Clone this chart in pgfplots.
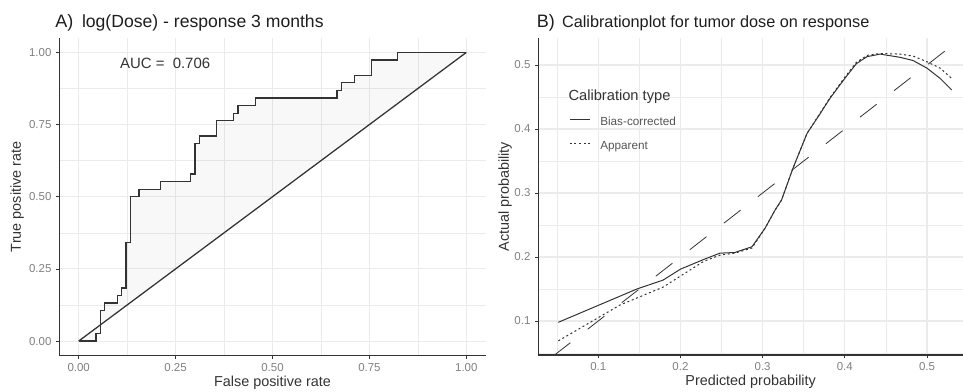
\documentclass[border=0pt]{standalone}
\usepackage{fontspec}
\setmainfont{Liberation Sans}
\usepackage{pgfplots}
\pgfplotsset{compat=1.18}

\definecolor{gridc}{RGB}{235,235,235}
\definecolor{axc}{RGB}{51,51,51}
\definecolor{tickc}{RGB}{128,128,128}
\definecolor{linec}{RGB}{51,51,51}
\definecolor{txtc}{RGB}{30,30,30}
\definecolor{legc}{RGB}{85,85,85}

\pgfplotsset{
  gg/.style={
    scale only axis,
    anchor=south west,
    axis lines*=left,
    xtick pos=bottom, ytick pos=left,
    axis line style={-, color=axc, line width=0.8pt},
    tick align=outside,
    major tick length=2.4pt,
    minor tick length=0pt,
    tick style={color=axc, line width=0.6pt},
    grid=both,
    major grid style={color=gridc, line width=0.8pt},
    minor grid style={color=gridc, line width=0.4pt},
    tick label style={font=\fontsize{8.6}{10}\selectfont, text=tickc},
    /pgf/number format/assume math mode=true,
    label style={font=\fontsize{10.8}{12}\selectfont, text=axc},
    clip=true,
  }
}

\begin{document}
\begin{tikzpicture}
\useasboundingbox (0,0) rectangle (722.25pt,294pt);

% ---------- Panel A ----------
\begin{axis}[gg,
  at={(44.475pt,27.375pt)}, width=319.8pt, height=238.125pt,
  xmin=-0.05, xmax=1.05, ymin=-0.05, ymax=1.05,
  xtick={0,0.25,0.5,0.75,1}, xticklabels={0.00,0.25,0.50,0.75,1.00},
  ytick={0,0.25,0.5,0.75,1}, yticklabels={0.00,0.25,0.50,0.75,1.00},
  minor xtick={0.125,0.375,0.625,0.875},
  minor ytick={0.125,0.375,0.625,0.875},
  xlabel={False positive rate}, ylabel={True positive rate},
  xlabel style={at={(axis description cs:0.5,-0.085)}, anchor=center},
  ylabel style={at={(axis description cs:-0.099,0.5)}, anchor=center, rotate=0},
]
\addplot[const plot, draw=none, fill=black, fill opacity=0.028, forget plot] coordinates {
(0,0) (0.04444,0.02632) (0.05556,0.10526) (0.06667,0.13158) (0.1,0.15789)
(0.11111,0.18421) (0.12222,0.34211) (0.13333,0.5) (0.15556,0.52632)
(0.21111,0.55263) (0.28889,0.57895) (0.3,0.68421) (0.31111,0.71053)
(0.35556,0.76316) (0.4,0.78947) (0.41111,0.81579) (0.45556,0.84211)
(0.66667,0.86842) (0.67778,0.89474) (0.71111,0.92105) (0.75556,0.97368)
(0.82222,1) (1,1)} -- cycle;
\addplot[const plot, draw=linec, line width=0.95pt] coordinates {
(0,0) (0.04444,0.02632) (0.05556,0.10526) (0.06667,0.13158) (0.1,0.15789)
(0.11111,0.18421) (0.12222,0.34211) (0.13333,0.5) (0.15556,0.52632)
(0.21111,0.55263) (0.28889,0.57895) (0.3,0.68421) (0.31111,0.71053)
(0.35556,0.76316) (0.4,0.78947) (0.41111,0.81579) (0.45556,0.84211)
(0.66667,0.86842) (0.67778,0.89474) (0.71111,0.92105) (0.75556,0.97368)
(0.82222,1) (1,1)};
\addplot[draw=linec, line width=0.95pt] coordinates {(0,0) (1,1)};
\node[font=\fontsize{11.2}{13}\selectfont, text=axc, inner sep=0pt] at (axis cs:0.223,0.961) {AUC =~~0.706};
\end{axis}

% ---------- Panel B ----------
\begin{axis}[gg,
  at={(403.725pt,27.75pt)}, width=318.525pt, height=237.525pt,
  xmin=0.0271, xmax=0.5438, ymin=0.0469, ymax=0.5417,
  xtick={0.1,0.2,0.3,0.4,0.5}, xticklabels={0.1,0.2,0.3,0.4,0.5},
  ytick={0.1,0.2,0.3,0.4,0.5}, yticklabels={0.1,0.2,0.3,0.4,0.5},
  minor xtick={0.05,0.15,0.25,0.35,0.45},
  minor ytick={0.05,0.15,0.25,0.35,0.45},
  xlabel={Predicted probability}, ylabel={Actual probability},
  xlabel style={at={(axis description cs:0.5,-0.085)}, anchor=center},
  ylabel style={at={(axis description cs:-0.078,0.5)}, anchor=center},
  legend style={at={(rel axis cs:0.0723,0.6967)}, anchor=west, draw=none, fill=none,
    inner sep=0pt, row sep=9.5pt, column sep=7.5pt,
    font=\fontsize{8.8}{10}\selectfont, text=legc,
    nodes={inner sep=0pt, text height=6.5pt, text depth=2pt}},
  legend cell align=left,
  legend image code/.code={\draw[#1] (0pt,2.2pt) -- (15pt,2.2pt);},
]
\addplot[draw=linec, line width=0.6pt, dash pattern=on 15.86pt off 16.49pt, forget plot]
  coordinates {(0.0458,0.0458) (0.523,0.523)};
\addplot[draw=linec, line width=0.75pt] coordinates {
(0.0515,0.098) (0.147,0.150) (0.179,0.164) (0.2,0.181) (0.228,0.196) (0.248,0.206)
(0.266,0.207) (0.287,0.216) (0.303,0.245) (0.315,0.273) (0.323,0.289)
(0.337,0.339) (0.354,0.393) (0.370,0.424) (0.382,0.448) (0.400,0.479)
(0.414,0.502) (0.427,0.513) (0.443,0.517) (0.467,0.512) (0.483,0.507)
(0.500,0.495) (0.516,0.479) (0.530,0.461)};
\addlegendentry{Bias-corrected}
\addplot[draw=linec, line width=0.75pt, dash pattern=on 1.5pt off 2.0pt] coordinates {
(0.0515,0.069) (0.1265,0.125) (0.179,0.153) (0.228,0.193) (0.248,0.203)
(0.266,0.206) (0.287,0.214) (0.303,0.245) (0.315,0.273) (0.323,0.289)
(0.337,0.339) (0.354,0.393) (0.370,0.425) (0.382,0.449) (0.400,0.481)
(0.414,0.504) (0.427,0.515) (0.443,0.518) (0.467,0.517) (0.483,0.514)
(0.500,0.505) (0.516,0.495) (0.530,0.479)};
\addlegendentry{Apparent}
\node[anchor=west, inner sep=0pt, font=\fontsize{11}{13}\selectfont, text=axc] at (rel axis cs:0.0706,0.8156) {Calibration type};
\end{axis}

% ---------- Titles ----------
\node[anchor=base west, inner sep=0pt, font=\fontsize{13.5}{15}\selectfont, text=txtc] at (41.25pt,273.5pt) {A)};
\node[anchor=base west, inner sep=0pt, font=\fontsize{13.2}{15}\selectfont, text=txtc] at (61.3pt,273.5pt) {log(Dose) - response 3 months};
\node[anchor=base west, inner sep=0pt, font=\fontsize{13.5}{15}\selectfont, text=txtc] at (402.5pt,273.5pt) {B)};
\node[anchor=base west, inner sep=0pt, font=\fontsize{12.2}{15}\selectfont, text=txtc] at (421.3pt,273.5pt) {Calibrationplot for tumor dose on response};
\end{tikzpicture}
\end{document}
